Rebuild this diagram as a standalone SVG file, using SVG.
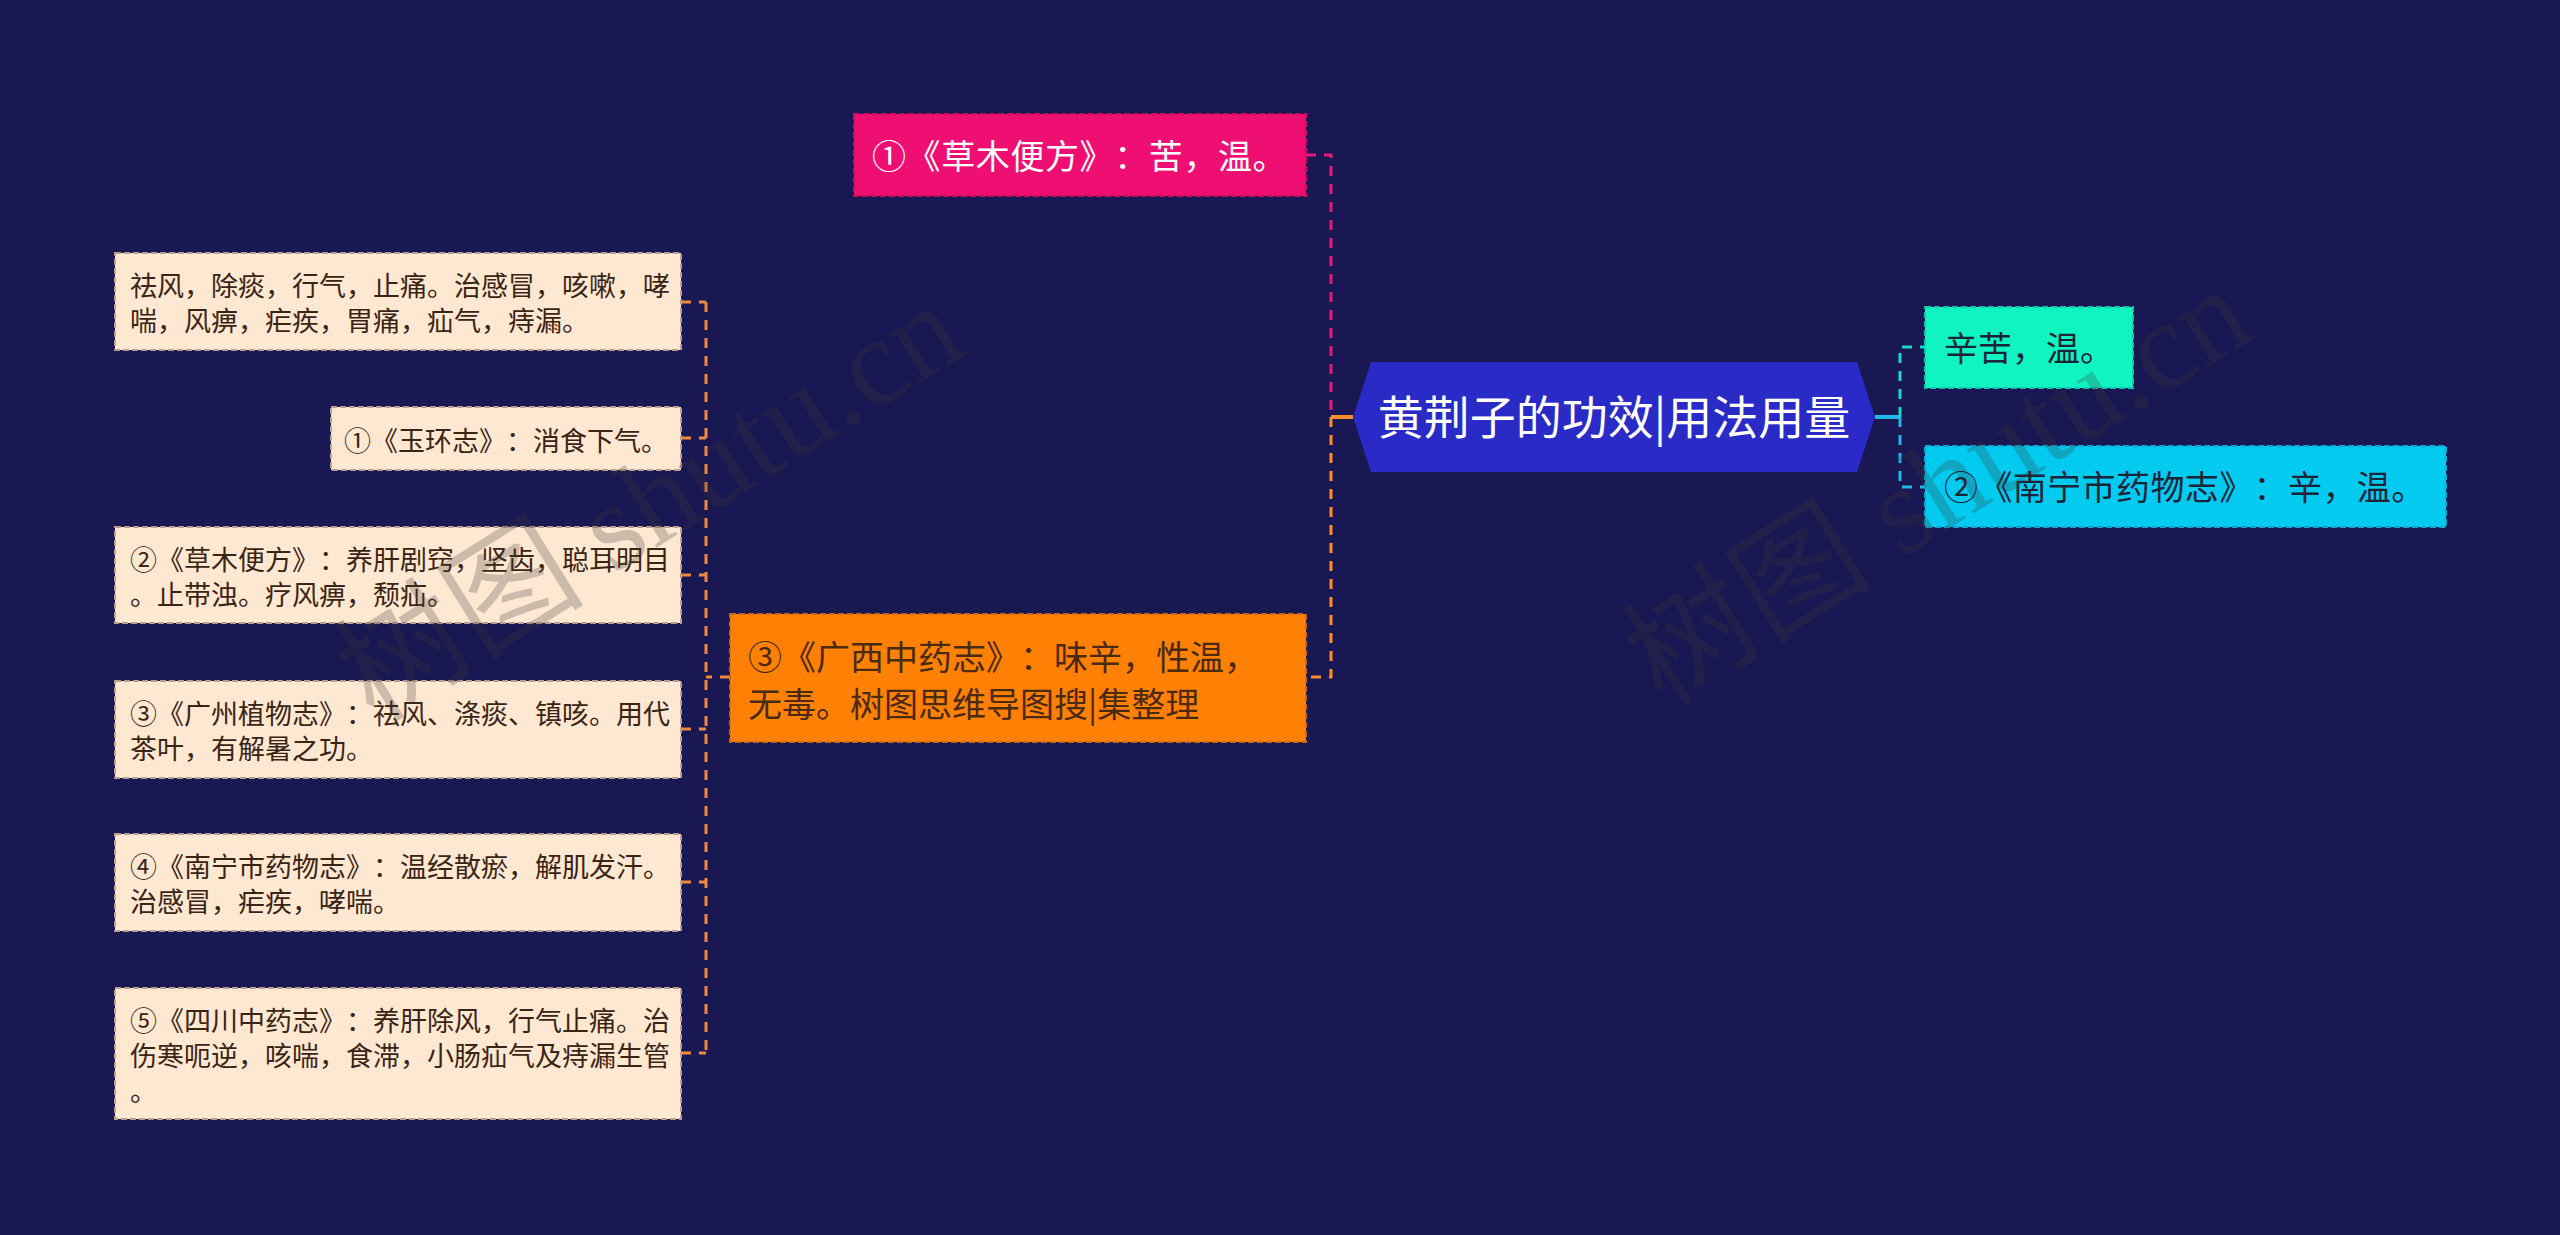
<svg xmlns="http://www.w3.org/2000/svg" width="2560" height="1235" viewBox="0 0 2560 1235">
<style>
text{text-spacing-trim:space-all;}
.cjk{font-family:"Noto Sans CJK SC","Noto Sans",sans-serif;}
.t34{font-size:34px;}
.t27{font-size:27px;fill:#3a2414;}
.leaf{fill:#ffe8d1;stroke:#b8a090;stroke-width:2;stroke-dasharray:6 3;}
.conn{fill:none;stroke-width:3;stroke-dasharray:10 8;}
.wm{font-family:"Liberation Serif","Noto Sans CJK SC",serif;font-size:125px;fill:#3a3a3a;opacity:0.25;}
</style>
<rect x="0" y="0" width="2560" height="1235" fill="#1a1852"/>

<g id="connectors">
  <path class="conn" d="M1306,155 H1331 V417" stroke="#e8197a"/>
  <path class="conn" d="M1331,417 V677 H1306" stroke="#ff8c2a"/>
  <path d="M1331,417 H1353" stroke="#ff8c2a" stroke-width="4" fill="none"/>
  <path d="M1875,417 H1900" stroke="#22b8ec" stroke-width="4" fill="none"/>
  <path class="conn" d="M1900,417 V347 H1925" stroke="#1ad8c8"/>
  <path class="conn" d="M1900,417 V487 H1925" stroke="#1fb8e8"/>
  <path class="conn" d="M730,677 H706" stroke="#f08a3a"/>
  <path class="conn" d="M706,302 V1053" stroke="#f08a3a"/>
  <path class="conn" d="M681,302 H706" stroke="#f08a3a"/>
  <path class="conn" d="M681,438 H706" stroke="#f08a3a"/>
  <path class="conn" d="M681,575 H706" stroke="#f08a3a"/>
  <path class="conn" d="M681,729 H706" stroke="#f08a3a"/>
  <path class="conn" d="M681,882 H706" stroke="#f08a3a"/>
  <path class="conn" d="M681,1053 H706" stroke="#f08a3a"/>
</g>

<g id="root">
  <polygon points="1353,417 1371,362 1857,362 1875,417 1857,472 1371,472" fill="#2a2ac6"/>
  <text class="cjk" x="1614" y="434" font-size="46" fill="#ffffff" text-anchor="middle">黄荆子的功效|用法用量</text>
</g>

<g id="n-pink">
  <rect x="854" y="114" width="452" height="82" fill="#ef0f72" stroke="#c80c60" stroke-width="2" stroke-dasharray="6 3"/>
  <text class="cjk t34" x="872" y="169" fill="#ffffff" letter-spacing="0.6">①《草木便方》：苦，温。</text>
</g>

<g id="n-orange">
  <rect x="730" y="614" width="576" height="128" fill="#fe8004" stroke="#c86810" stroke-width="2" stroke-dasharray="6 3"/>
  <text class="cjk t34" fill="#4a2a10"><tspan x="748" y="670">③《广西中药志》：味辛，性温，</tspan><tspan x="748" y="717">无毒。树图思维导图搜|集整理</tspan></text>
</g>

<g id="n-teal">
  <rect x="1925" y="307" width="208" height="81" fill="#10f4c2" stroke="#10c8a8" stroke-width="2" stroke-dasharray="6 3"/>
  <text class="cjk t34" x="1944" y="361" fill="#1c2438">辛苦，温。</text>
</g>

<g id="n-cyan">
  <rect x="1925" y="446" width="521" height="81" fill="#03cbf0" stroke="#08a8d0" stroke-width="2" stroke-dasharray="6 3"/>
  <text class="cjk t34" x="1944" y="500" fill="#1c2438" letter-spacing="0.4">②《南宁市药物志》：辛，温。</text>
</g>

<g id="c1">
  <rect class="leaf" x="115" y="253" width="566" height="97"/>
  <text class="cjk t27"><tspan x="130" y="296">祛风，除痰，行气，止痛。治感冒，咳嗽，哮</tspan><tspan x="130" y="331">喘，风痹，疟疾，胃痛，疝气，痔漏。</tspan></text>
</g>
<g id="c2">
  <rect class="leaf" x="331" y="407" width="350" height="63"/>
  <text class="cjk t27" x="344" y="451">①《玉环志》：消食下气。</text>
</g>
<g id="c3">
  <rect class="leaf" x="115" y="527" width="566" height="96"/>
  <text class="cjk t27"><tspan x="130" y="570">②《草木便方》：养肝剧窍，坚齿，聪耳明目</tspan><tspan x="130" y="605">。止带浊。疗风痹，颓疝。</tspan></text>
</g>
<g id="c4">
  <rect class="leaf" x="115" y="681" width="566" height="97"/>
  <text class="cjk t27"><tspan x="130" y="724">③《广州植物志》：祛风、涤痰、镇咳。用代</tspan><tspan x="130" y="759">茶叶，有解暑之功。</tspan></text>
</g>
<g id="c5">
  <rect class="leaf" x="115" y="834" width="566" height="97"/>
  <text class="cjk t27"><tspan x="130" y="877">④《南宁市药物志》：温经散瘀，解肌发汗。</tspan><tspan x="130" y="912">治感冒，疟疾，哮喘。</tspan></text>
</g>
<g id="c6">
  <rect class="leaf" x="115" y="988" width="566" height="131"/>
  <text class="cjk t27"><tspan x="130" y="1031">⑤《四川中药志》：养肝除风，行气止痛。治</tspan><tspan x="130" y="1066">伤寒呃逆，咳喘，食滞，小肠疝气及痔漏生管</tspan><tspan x="130" y="1101">。</tspan></text>
</g>

<g id="watermarks">
  <text class="wm" x="672" y="538" text-anchor="middle" transform="rotate(-32 672 538)">树图 shutu.cn</text>
  <text class="wm" x="1960" y="522" text-anchor="middle" transform="rotate(-32 1960 522)">树图 shutu.cn</text>
</g>
</svg>
